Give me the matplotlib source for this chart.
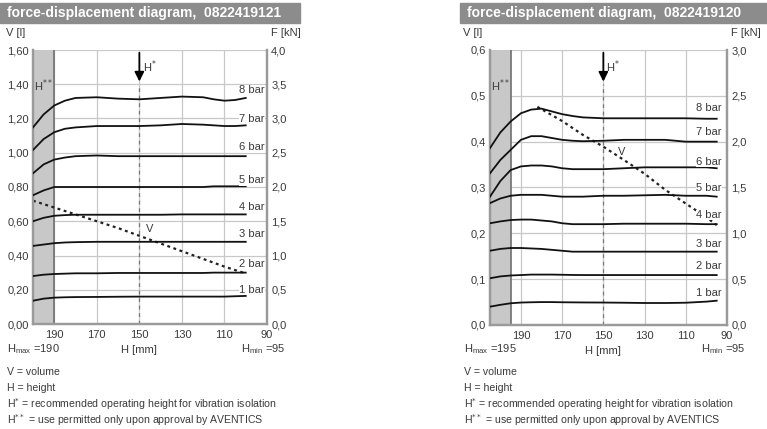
import matplotlib
matplotlib.use("Agg")
import matplotlib.pyplot as plt
from matplotlib.patches import Rectangle

plt.rcParams['font.family'] = ['Liberation Sans', 'DejaVu Sans']

# ---------------- data ----------------
titles = ["force-displacement diagram,  0822419121", "force-displacement diagram,  0822419120"]
bar_labels = ["1 bar", "2 bar", "3 bar", "4 bar", "5 bar", "6 bar", "7 bar", "8 bar"]
x_ticks = [190, 170, 150, 130, 110, 90]

# left panel (0822419121)
H_L = [200, 195, 190, 185, 180, 170, 160, 150, 140, 130, 120, 115, 110, 105, 100]
F1_L = [0.34, 0.37, 0.385, 0.39, 0.393, 0.395, 0.398, 0.40, 0.40, 0.40, 0.40, 0.40, 0.40, 0.405, 0.41]
F2_L = [0.70, 0.72, 0.73, 0.735, 0.74, 0.74, 0.745, 0.745, 0.745, 0.745, 0.745, 0.75, 0.75, 0.75, 0.75]
F3_L = [1.14, 1.16, 1.18, 1.19, 1.195, 1.20, 1.20, 1.20, 1.20, 1.20, 1.20, 1.20, 1.20, 1.20, 1.20]
F4_L = [1.50, 1.55, 1.58, 1.59, 1.595, 1.595, 1.595, 1.595, 1.595, 1.60, 1.60, 1.60, 1.60, 1.60, 1.60]
F5_L = [1.88, 1.95, 2.00, 2.00, 2.00, 2.00, 2.00, 2.00, 2.00, 2.00, 2.00, 2.01, 2.01, 2.01, 2.01]
F6_L = [2.20, 2.33, 2.40, 2.43, 2.45, 2.46, 2.45, 2.45, 2.45, 2.45, 2.45, 2.45, 2.45, 2.45, 2.45]
F7_L = [2.54, 2.70, 2.80, 2.85, 2.87, 2.89, 2.89, 2.89, 2.90, 2.92, 2.91, 2.90, 2.89, 2.89, 2.90]
F8_L = [2.87, 3.06, 3.19, 3.26, 3.30, 3.31, 3.29, 3.28, 3.30, 3.32, 3.31, 3.28, 3.26, 3.27, 3.30]
VH_L = [200, 190, 180, 170, 160, 150, 140, 130, 120, 110, 100]
V_L = [0.72, 0.68, 0.64, 0.60, 0.56, 0.515, 0.47, 0.425, 0.38, 0.335, 0.295]
label_F_L = [0.50, 0.87, 1.32, 1.71, 2.10, 2.58, 3.00, 3.41]

# right panel (0822419120)
H_R = [205, 200, 195, 190, 185, 180, 175, 170, 165, 160, 150, 140, 130, 120, 110, 100, 95]
F1_R = [0.20, 0.22, 0.237, 0.245, 0.248, 0.25, 0.25, 0.248, 0.247, 0.246, 0.245, 0.243, 0.24, 0.24, 0.243, 0.255, 0.265]
F2_R = [0.51, 0.53, 0.54, 0.545, 0.55, 0.55, 0.55, 0.548, 0.546, 0.545, 0.545, 0.545, 0.545, 0.545, 0.545, 0.545, 0.545]
F3_R = [0.81, 0.83, 0.84, 0.84, 0.835, 0.83, 0.82, 0.81, 0.80, 0.80, 0.80, 0.80, 0.80, 0.80, 0.80, 0.80, 0.80]
F4_R = [1.11, 1.13, 1.145, 1.15, 1.15, 1.14, 1.13, 1.11, 1.10, 1.10, 1.10, 1.105, 1.105, 1.105, 1.105, 1.10, 1.10]
F5_R = [1.33, 1.38, 1.41, 1.42, 1.42, 1.42, 1.41, 1.40, 1.40, 1.40, 1.41, 1.41, 1.415, 1.42, 1.41, 1.41, 1.40]
F6_R = [1.40, 1.57, 1.69, 1.73, 1.74, 1.74, 1.73, 1.71, 1.70, 1.70, 1.70, 1.71, 1.72, 1.72, 1.72, 1.72, 1.71]
F7_R = [1.655, 1.80, 1.91, 2.02, 2.06, 2.06, 2.04, 2.02, 2.01, 2.005, 2.01, 2.02, 2.02, 2.02, 2.00, 2.00, 2.00]
F8_R = [1.93, 2.10, 2.22, 2.31, 2.35, 2.36, 2.33, 2.30, 2.28, 2.265, 2.255, 2.255, 2.255, 2.255, 2.255, 2.25, 2.25]
VH_R = [182, 170, 160, 150, 140, 130, 120, 110, 100, 95]
V_R = [0.476, 0.445, 0.415, 0.389, 0.36, 0.33, 0.295, 0.265, 0.235, 0.218]
label_F_R = [0.35, 0.64, 0.88, 1.20, 1.49, 1.78, 2.11, 2.37]

legend_lines = ["V = volume", "H = height",
                "H$^{*}$ = recommended operating height for vibration isolation",
                "H$^{**}$ = use permitted only upon approval by AVENTICS"]

W, Hpx = 767, 429
fig = plt.figure(figsize=(W / 100, Hpx / 100), dpi=100)

TXT = '#3a3a3a'
SPINE = '#9a9a9a'
GRID = '#c8c8c8'


def px(x, y):
    return x / W, 1 - y / Hpx


def panel(x0, x1, y_top, y_bot, bar_x0, bar_x1, title, xlim, hshade,
          vmax, vstep, vfmt, fmax, fstep, series_H, series, V_H, V, lab_F, lab_H,
          Vlabel_pos, hmax_text):
    # title bar
    fig.patches.append(Rectangle(px(bar_x0, 23), (bar_x1 - bar_x0) / W, 20 / Hpx,
                                 transform=fig.transFigure, color='#8c8c8c', zorder=0))
    fig.text(*px(bar_x0 + 7, 13), title, color='white', fontsize=10, fontweight='bold',
             va='center', ha='left')
    l, b = px(x0, y_bot)
    ax = fig.add_axes([l, b, (x1 - x0) / W, (y_bot - y_top) / Hpx])
    ax.set_xlim(*xlim)
    ax.set_ylim(0, vmax)
    ax2 = ax.twinx()
    ax2.set_ylim(0, fmax)
    nt = int(round(vmax / vstep))
    ax.set_yticks([i * vstep for i in range(nt + 1)])
    ax.set_yticklabels([vfmt.format(i * vstep).replace('.', ',') for i in range(nt + 1)])
    ax2.set_yticks([i * fstep for i in range(nt + 1)])
    ax2.set_yticklabels([('%.1f' % (i * fstep)).replace('.', ',') for i in range(nt + 1)])
    ax.set_xticks(x_ticks)
    ax.set_xticklabels([str(t) for t in x_ticks])
    ax.grid(True, color=GRID, lw=0.9)
    ax.set_axisbelow(True)
    for a in (ax, ax2):
        a.spines['top'].set_visible(False)
        for s in ('left', 'right', 'bottom'):
            a.spines[s].set_color(SPINE)
            a.spines[s].set_linewidth(1.6)
        a.tick_params(colors=TXT, labelsize=8, length=0, pad=3)
    ax.tick_params(axis='x', pad=4)
    ax.axvspan(xlim[0], hshade, color='#c8c8c8', zorder=0.5, lw=0)
    ax.axvline(hshade, color='#707070', lw=1.2, zorder=0.6)
    ax.text(xlim[0] - (xlim[0] - hshade) / 2, vmax * 0.87, 'H$^{**}$', ha='center', va='center',
            fontsize=8, color=TXT)
    # H* arrow and dashed line
    ax.plot([150, 150], [0, vmax * 0.875], ls=(0, (3, 3)), color='#777777', lw=0.9, zorder=1)
    ax.annotate('', xy=(150, vmax * 0.875), xytext=(150, vmax),
                arrowprops=dict(arrowstyle='-|>', color='black', lw=1.3, mutation_scale=14),
                zorder=5)
    ax.text(148.5, vmax * 0.94, 'H$^{*}$', ha='left', va='center', fontsize=8, color=TXT)
    # curves
    for F, lf, lb in zip(series, lab_F, bar_labels):
        ax2.plot(series_H, F, color='#111111', lw=1.3, zorder=3)
        ax2.text(lab_H, lf, lb, ha='right', va='center', fontsize=8, color=TXT, zorder=4,
                 bbox=dict(facecolor='white', edgecolor='none', pad=0.3))
    ax.plot(V_H, V, color='#222222', lw=1.6, ls=(0, (1.3, 1.6)), zorder=4)
    ax.text(Vlabel_pos[0], Vlabel_pos[1], 'V', fontsize=8, color=TXT, ha='center', va='center')
    # axis titles
    fig.text(*px(x0 - 27, 33), 'V [l]', fontsize=8, color=TXT, ha='left', va='center')
    fig.text(*px(x1 + 4, 33), 'F [kN]', fontsize=8, color=TXT, ha='left', va='center')
    fig.text(*px(x0 - 26, 349), 'H$_{\\mathregular{max}}$ =' + hmax_text, fontsize=8, color=TXT,
             ha='left', va='center')
    ax.text(150, -vmax * 0.095, 'H [mm]', fontsize=8, color=TXT, ha='center', va='center')
    fig.text(*px(x1 + 18, 349), 'H$_{\\mathregular{min}}$ =95', fontsize=8, color=TXT,
             ha='right', va='center')
    for i, line in enumerate(legend_lines):
        fig.text(*px(x0 - 26, 372 + 16 * i), line, fontsize=7.6, color=TXT, ha='left',
                 va='center')
    return ax


panel(33, 267, 50, 324, 0, 300, titles[0], (200, 90), 190,
      1.6, 0.2, '{:.2f}', 4.0, 0.5, H_L,
      [F1_L, F2_L, F3_L, F4_L, F5_L, F6_L, F7_L, F8_L], VH_L, V_L, label_F_L, 91,
      (145, 0.552), '190')
panel(490, 727, 50, 325, 460, 767, titles[1], (205, 90), 195,
      0.6, 0.1, '{:.1f}', 3.0, 0.5, H_R,
      [F1_R, F2_R, F3_R, F4_R, F5_R, F6_R, F7_R, F8_R], VH_R, V_R, label_F_R, 92.5,
      (141, 0.378), '195')

fig.savefig('out.png', dpi=100)
